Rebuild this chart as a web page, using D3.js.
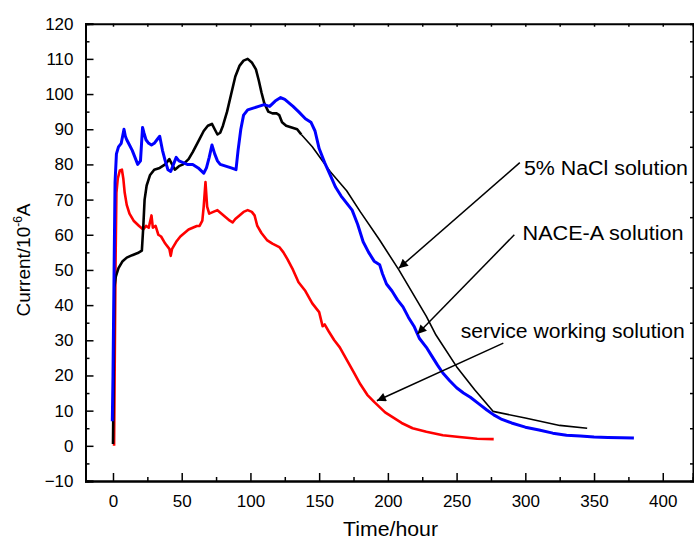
<!DOCTYPE html>
<html>
<head>
<meta charset="utf-8">
<script src="https://cdn.jsdelivr.net/npm/d3@7"></script>
<style>
  html, body { margin: 0; padding: 0; background: #fff; }
  svg { display: block; }
  text { font-family: "Liberation Sans", Arial, sans-serif; fill: #000; }
</style>
</head>
<body>
<svg id="chart" width="694" height="541"></svg>
<script>
// ---- Data (time in hours, current in 10^-6 A) ----
const xTicks = [0, 50, 100, 150, 200, 250, 300, 350, 400];
const yTicks = [-10, 0, 10, 20, 30, 40, 50, 60, 70, 80, 90, 100, 110, 120];

// 5% NaCl solution (black)
const nacl = [
  [0,0.5],[0.5,20],[1,45],[2,48],[4,50.5],[7,52.5],[10,53.5],[14,54.2],[18,54.8],[21,55.5],
  [22,62],[23,70],[24.5,74],[27,77],[30,78.5],[34,79],[38,80],[41,81.5],[43,80],[45,78.5],
  [48,79.5],[51,80],[55,81.5],[58,83.5],[62,86.5],[66,89.5],[69,91],[72,91.5],[74,90],[76,88.5],
  [78,89],[80,91],[83,95],[86,100],[89,105],[92,108],[95,109.5],[98,110],[101,109],[104,107],
  [106,104],[108,100.5],[110,97.5],[113,95],[116,94.5],[119,94.5],[121,94],[123,92],[126,91],
  [130,90.5],[134,90],[137,88.5],
  [145,85],[158,78],[170,72.5],[180,66.5],[194,58.5],[208,50],[228,36.8],[235,31.5],[250,22.5],
  [263,16],[276.5,9.8],[300,7.9],[325,5.8],[345,5]
];
// NACE-A solution (blue)
const nace = [
  [-0.5,7],[0,20],[0.8,50],[1.5,75],[2.5,83],[4,85],[6,86],[8,90],[9,88],[10,87],[12,85.5],
  [14,84],[16,82],[18,80],[20,81],[21.5,90.5],[22.5,89],[24,87],[26,86],[28,85.5],[30,86],
  [32,87],[34,88],[36,84],[38,81],[40,78.5],[42,78],[44,80],[46,82],[48,81],[51,80.5],[54,80],
  [58,80],[62,79],[66,77.5],[68,79],[70,82],[72,85.5],[74,83],[76,81],[78,80],[82,79.5],[86,79],
  [89.5,78.5],[91,84],[93,90],[95,94],[98,95.5],[102,96],[106,96.5],[110,97],[114,96.5],[118,98],
  [122,99],[125,98.5],[128,97.5],[131,96.5],[135,95],[140,93],[144,92],[147,89.5],[150,84.5],
  [154,80.5],[158,77],[162,73.5],[166,71],[170,69],[174,67],[178,63],[182,58],[186,55],[190,52.5],
  [194,51.5],[196,49],[199,46],[203,44],[207,41.5],[211,39.5],[215,36.5],[219,34],[223,30.5],
  [228,28],[232,25.5],[236,23],[240,20.7],[245,18.5],[250,16.5],[255,15],[260,13.8],[266,12],
  [272,10.2],[277,8.8],[283,7.5],[290,6.5],[300,5.3],[310,4.5],[320,3.6],[330,3],[340,2.8],
  [350,2.5],[360,2.4],[370,2.3],[379,2.2]
];
// service working solution (red)
const service = [
  [0.8,0],[1.2,20],[1.8,50],[2.5,72],[3.5,76],[5,78.3],[6.5,78.5],[7.5,76],[8.5,72],[10,68.5],
  [12,66],[15,64],[19,62.5],[22,61.5],[24,62.5],[26,62],[28,65.5],[29,62],[31,62.5],[33,60],
  [35,59.5],[38,57.5],[41,56],[42,54],[43,56],[46,58],[49,59.5],[52,60.5],[55,61.5],[58,62],
  [61,62.5],[63,62.5],[65,64],[66,68],[67.3,75],[68.5,68],[70,66],[73,66.5],[76,67],[79,66],
  [82,65],[85,64],[87,63.5],[89,64.5],[92,65.5],[95,66.5],[98,67],[101,66.5],[103,65.5],[105,62.5],
  [108,60.5],[112,58.5],[116,57.5],[121,56.5],[124,55],[127,53],[131,50],[135,46.5],[140,44],
  [145,40.5],[150,38],[152.5,34],[154,34.5],[157,32.5],[161,30],[165,28],[170,24.5],[175,21],
  [180,17.5],[185,14.5],[190,12.5],[194,11],[198,9.5],[204,8],[210,6.5],[218,5],[228,4],[240,3],
  [252,2.5],[265,2],[277,1.9]
];
// annotations: label, text anchor point (data), arrow start & tip (data)
const labels = ["5% NaCl solution", "NACE-A solution", "service working solution"];
const labelPos = [[299, 77], [298, 58.5], [253, 30.6]];
const arrowFrom = [[296, 80.5], [292, 60], [284, 29.2]];
const arrowTo = [[208, 50.5], [221.5, 31.8], [192, 12.8]];

// ---- Chart ----
const svg = d3.select("#chart");
const x = d3.scaleLinear().domain([-20, 422]).range([85.5, 693]);
const y = d3.scaleLinear().domain([-10, 120]).range([481, 23.7]);

const lineGen = d3.line().x(d => x(d[0])).y(d => y(d[1]));

// axes (all ticks inward)
const xMinor = d3.range(-25, 425, 25).filter(v => v % 50 !== 0 && v > -20);
const yMinor = d3.range(-5, 120, 10);

const gB = svg.append("g").attr("transform", `translate(0,${y(-10)})`)
  .call(d3.axisBottom(x).tickValues(xTicks).tickSize(-8).tickPadding(14).tickFormat(d3.format("d")));
const gBm = svg.append("g").attr("transform", `translate(0,${y(-10)})`)
  .call(d3.axisBottom(x).tickValues(xMinor).tickSize(-4).tickFormat(""));
const gT = svg.append("g").attr("transform", `translate(0,${y(120)})`)
  .call(d3.axisTop(x).tickValues(xTicks.concat(xMinor)).tickSize(-3).tickFormat(""));
const gL = svg.append("g").attr("transform", `translate(${x(-20)},0)`)
  .call(d3.axisLeft(y).tickValues(yTicks).tickSize(-8).tickPadding(12).tickFormat(d3.format("d")));
const gLm = svg.append("g").attr("transform", `translate(${x(-20)},0)`)
  .call(d3.axisLeft(y).tickValues(yMinor).tickSize(-4).tickFormat(""));
const gR = svg.append("g").attr("transform", `translate(${x(422)},0)`)
  .call(d3.axisRight(y).tickValues(yMinor).tickSize(-3).tickFormat(""));

[gB, gBm, gT, gL, gLm, gR].forEach(g => {
  g.select(".domain").attr("stroke", "#000").attr("stroke-width", 2);
  g.selectAll(".tick line").attr("stroke", "#000").attr("stroke-width", 1.5);
  g.selectAll(".tick text").attr("font-size", 17).attr("font-family", "Liberation Sans, Arial, sans-serif").attr("fill", "#000");
});

// curves
svg.append("clipPath").attr("id", "clip").append("rect")
  .attr("x", x(-20)).attr("y", y(120)).attr("width", x(422) - x(-20)).attr("height", y(-10) - y(120));
const plot = svg.append("g").attr("clip-path", "url(#clip)");

plot.append("path").datum(service).attr("d", lineGen)
  .attr("fill", "none").attr("stroke", "#ff0000").attr("stroke-width", 2.6).attr("stroke-linejoin", "round");
plot.append("path").datum(nacl.filter(d => d[0] <= 137)).attr("d", lineGen)
  .attr("fill", "none").attr("stroke", "#000").attr("stroke-width", 2.6).attr("stroke-linejoin", "round");
plot.append("path").datum(nacl.filter(d => d[0] >= 137)).attr("d", lineGen)
  .attr("fill", "none").attr("stroke", "#000").attr("stroke-width", 1.6).attr("stroke-linejoin", "round");
plot.append("path").datum(nace).attr("d", lineGen)
  .attr("fill", "none").attr("stroke", "#0000ff").attr("stroke-width", 3).attr("stroke-linejoin", "round");

// arrows
const defs = svg.append("defs");
defs.append("marker").attr("id", "arrow").attr("viewBox", "0 0 10 10").attr("refX", 10).attr("refY", 5)
  .attr("markerWidth", 14).attr("markerHeight", 9).attr("markerUnits", "userSpaceOnUse").attr("orient", "auto")
  .append("path").attr("d", "M0,0 L10,5 L0,10 Z").attr("fill", "#000");

const labelWidths = [164, 161, 224];
labels.forEach((lab, i) => {
  svg.append("line")
    .attr("x1", x(arrowFrom[i][0])).attr("y1", y(arrowFrom[i][1]))
    .attr("x2", x(arrowTo[i][0])).attr("y2", y(arrowTo[i][1]))
    .attr("stroke", "#000").attr("stroke-width", 1.5).attr("marker-end", "url(#arrow)");
  svg.append("text").attr("x", x(labelPos[i][0])).attr("y", y(labelPos[i][1]))
    .attr("font-size", 19.5).attr("textLength", labelWidths[i]).attr("lengthAdjust", "spacingAndGlyphs")
    .text(lab);
});

// axis titles
svg.append("text").attr("x", 343).attr("y", 536)
  .attr("font-size", 19.5).attr("textLength", 95).attr("lengthAdjust", "spacingAndGlyphs").text("Time/hour");
const yt = svg.append("text").attr("transform", "translate(30,260) rotate(-90)")
  .attr("text-anchor", "middle").attr("font-size", 19);
yt.append("tspan").text("Current/10");
yt.append("tspan").attr("font-size", 12).attr("dy", -8).text("-6");
yt.append("tspan").attr("dy", 8).text("A");
</script>
</body>
</html>
